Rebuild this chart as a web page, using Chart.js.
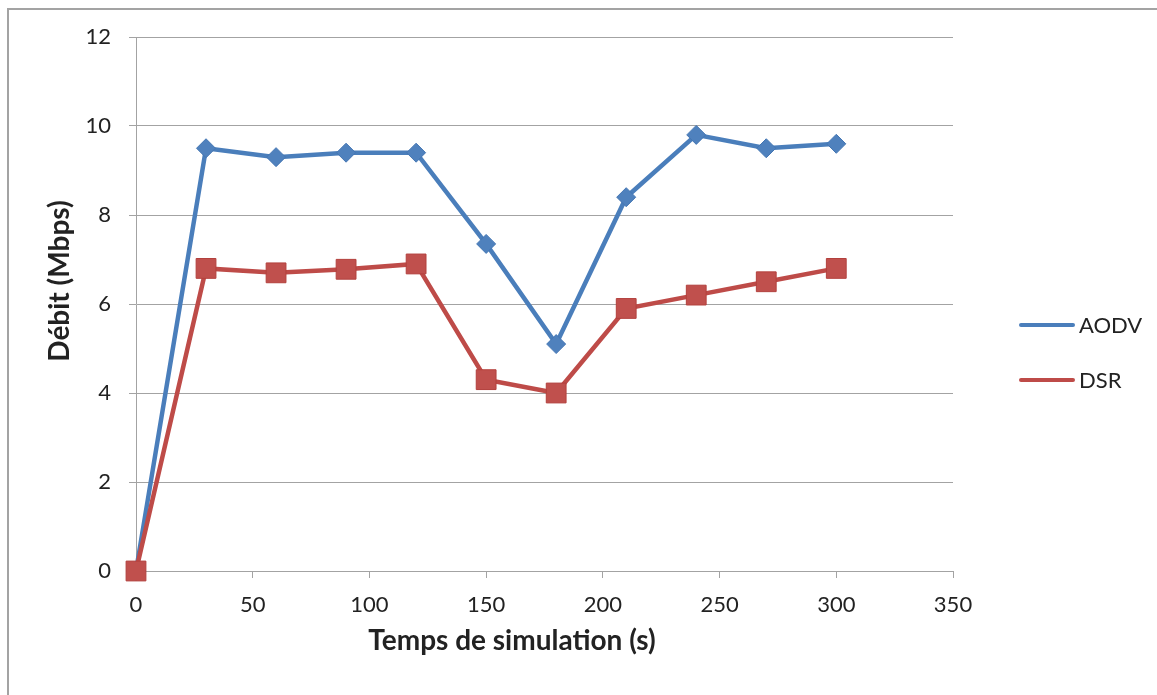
<!DOCTYPE html>
<html>
<head>
<meta charset="utf-8">
<script src="https://cdn.jsdelivr.net/npm/chart.js@4"></script>
<style>
  body { margin: 0; background: #fff; }
  #wrap { position: relative; width: 1157px; height: 695px; overflow: hidden; }
  #cadre { position: absolute; left: 7px; top: 8px; width: 1200px; height: 800px;
           border-left: 2px solid #a3a3a3; border-top: 2px solid #a3a3a3; }
  #debit { position: absolute; left: 0; top: 0; }
</style>
</head>
<body>
<div id="wrap">
  <div id="cadre"></div>
  <canvas id="debit" width="1157" height="695"></canvas>
</div>
<script>
// temps de simulation (s)
var temps = [0, 30, 60, 90, 120, 150, 180, 210, 240, 270, 300];
// debit en Mbps
var aodv = [0, 9.5, 9.3, 9.4, 9.4, 7.35, 5.1, 8.4, 9.8, 9.5, 9.6];
var dsr = [0, 6.8, 6.7, 6.78, 6.9, 4.3, 4.0, 5.9, 6.2, 6.5, 6.8];
var series = ["AODV", "DSR"];

var grille = "#a3a3a3";
var police = "Lato";

function points(valeurs) {
  var res = [];
  for (var i = 0; i < temps.length; i++) {
    res.push({ x: temps[i], y: valeurs[i] });
  }
  return res;
}

// legende a droite + titres des axes (pas centres sur les axes dans l'original)
var extras = {
  id: "extras",
  afterDraw: function (chart) {
    var ctx = chart.ctx;
    var sets = chart.data.datasets;
    ctx.save();
    for (var i = 0; i < sets.length; i++) {
      var d = sets[i];
      var y = 325 + i * 55;
      ctx.strokeStyle = d.borderColor;
      ctx.lineWidth = 4;
      ctx.lineCap = "round";
      ctx.beginPath();
      ctx.moveTo(1021, y);
      ctx.lineTo(1073, y);
      ctx.stroke();
      ctx.fillStyle = d.pointBackgroundColor;
      ctx.strokeStyle = d.pointBorderColor;
      ctx.lineWidth = 1;
      Chart.helpers.drawPoint(ctx, { pointStyle: d.pointStyle, rotation: 0, borderWidth: 1 },
        1047, y, d.pointStyle === "rect" ? 12.5 : 7.5);
      ctx.fillStyle = "#222";
      ctx.font = "22px " + police;
      ctx.textBaseline = "middle";
      ctx.textAlign = "left";
      ctx.fillText(d.label, 1079, y + 1);
    }
    ctx.font = "bold 28px " + police;
    ctx.textAlign = "center";
    ctx.textBaseline = "middle";
    ctx.fillStyle = "#222";
    ctx.fillText("Temps de simulation (s)", 512, 641);
    ctx.translate(60, 281);
    ctx.rotate(-Math.PI / 2);
    ctx.fillText("Débit (Mbps)", 0, 0);
    ctx.restore();
  }
};

new Chart(document.getElementById("debit"), {
  type: "line",
  data: {
    datasets: [
      {
        label: series[0],
        data: points(aodv),
        borderColor: "#4a7ebb",
        borderWidth: 4.5,
        pointStyle: "rectRot",
        pointRadius: 9.5,
        pointHoverRadius: 9.5,
        pointBackgroundColor: "#4f81bd",
        pointBorderColor: "#4476b3",
        pointBorderWidth: 1,
        order: 1,
        clip: false
      },
      {
        label: series[1],
        data: points(dsr),
        borderColor: "#be4b48",
        borderWidth: 4.5,
        pointStyle: "rect",
        pointRadius: 14,
        pointHoverRadius: 14,
        pointBackgroundColor: "#c0504d",
        pointBorderColor: "#b3403d",
        pointBorderWidth: 1,
        order: 0,
        clip: false
      }
    ]
  },
  options: {
    responsive: false,
    animation: false,
    layout: { padding: { left: 0, top: 37, right: 204, bottom: 0 } },
    plugins: {
      legend: { display: false },
      tooltip: { enabled: false }
    },
    scales: {
      x: {
        type: "linear",
        min: 0,
        max: 350,
        afterFit: function (s) { s.height = 124; },
        ticks: { stepSize: 50, padding: 14, color: "#222", font: { family: police, size: 22 } },
        grid: { drawOnChartArea: false, tickLength: 7, color: grille },
        border: { color: grille, width: 1 }
      },
      y: {
        min: 0,
        max: 12,
        afterFit: function (s) { s.width = 136; },
        ticks: { stepSize: 2, padding: 18, color: "#222", font: { family: police, size: 22 } },
        grid: { tickLength: 7, color: grille },
        border: { color: grille, width: 1 }
      }
    }
  },
  plugins: [extras]
});
</script>
</body>
</html>
